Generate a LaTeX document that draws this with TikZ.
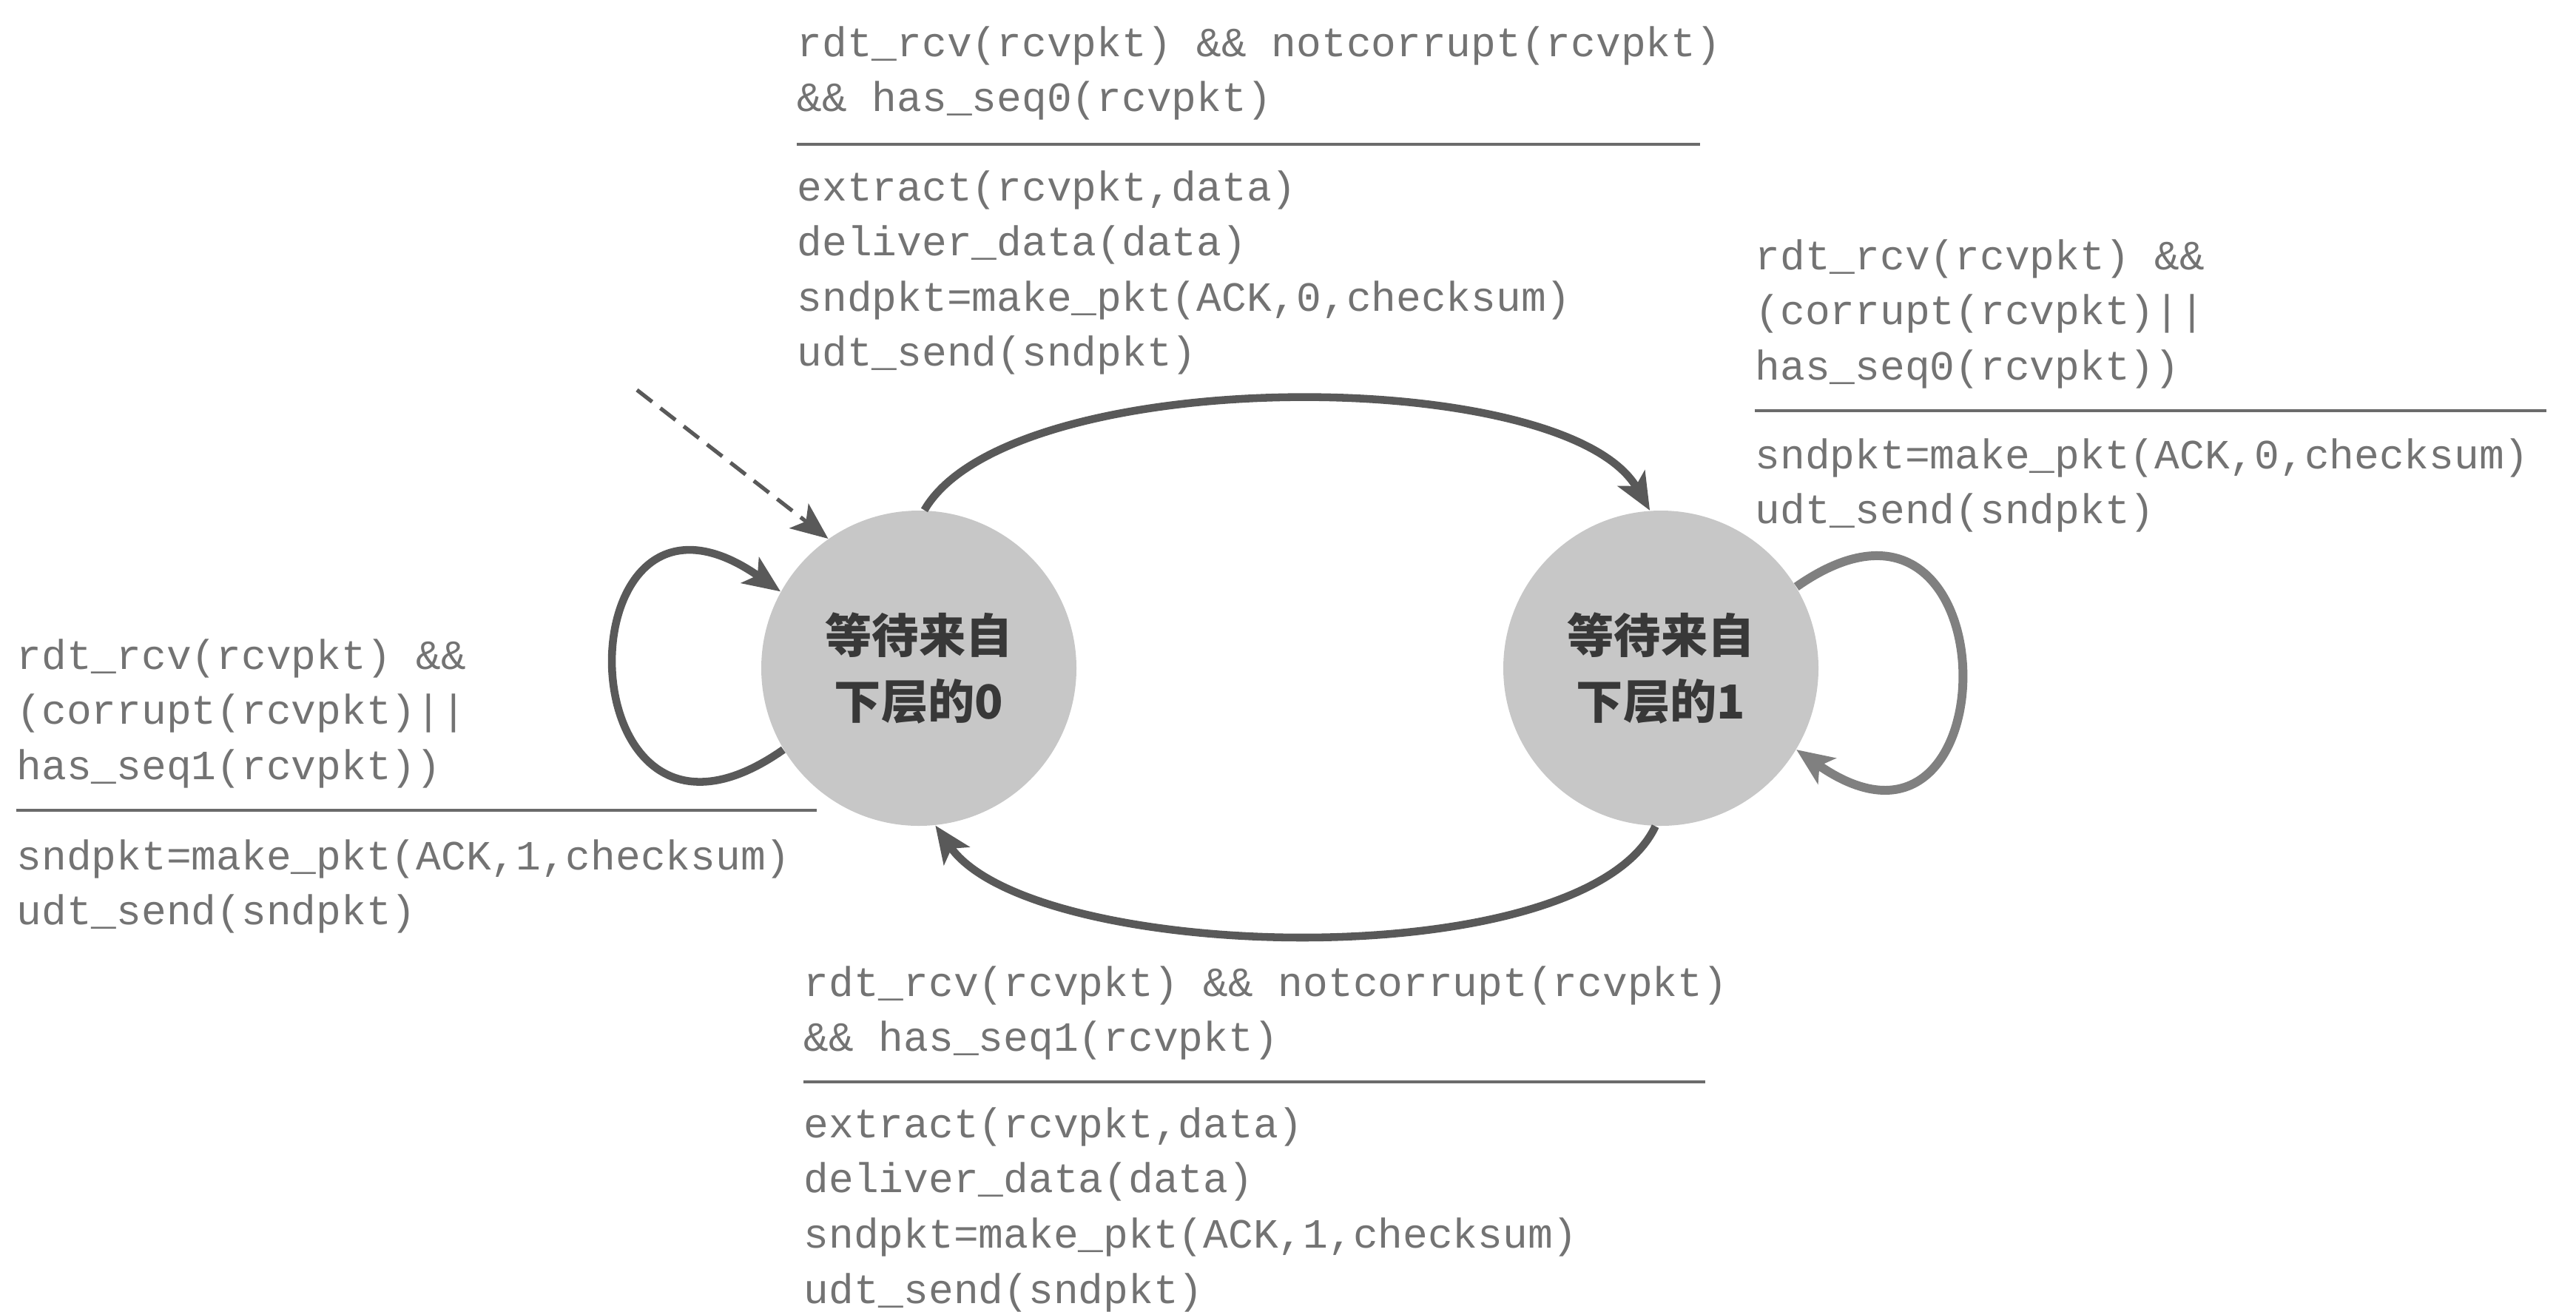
\documentclass[tikz,border=0pt]{standalone}
\usepackage{fontspec}
\newfontfamily\codefont{Liberation Mono}
\newfontfamily\cjkfont{Noto Sans CJK SC}
\usetikzlibrary{arrows.meta}

\begin{document}
\begin{tikzpicture}[every node/.style={inner sep=0pt},
	state/.style={circle, fill=black!22, minimum size=4.26cm, align=center, text=black!78, font=\cjkfont\bfseries\fontsize{18}{25.3}\selectfont},
	code/.style={anchor=north west, align=left, text=black!55, font=\codefont\fontsize{16}{21.2}\selectfont},
	sepline/.style={black!58, line width=1.4pt},
	trans/.style={black!65, line width=3pt, -{Stealth[length=5mm, width=4.2mm, inset=1.2mm]}}]
	\useasboundingbox (0,0) rectangle (34.82,-17.72);
	\node[state] (w0) at (12.42,-9.03) {等待来自\\下层的0};
	\node[state] (w1) at (22.45,-9.03) {等待来自\\下层的1};
	\node[code] (topguard) at (10.77,-0.35) {rdt\_rcv(rcvpkt) \&\& notcorrupt(rcvpkt)\\\&\& has\_seq0(rcvpkt)};
	\draw[sepline] (10.77,-1.95) -- (22.98,-1.95);
	\node[code] (topact) at (10.77,-2.30) {extract(rcvpkt,data)\\deliver\_data(data)\\sndpkt=make\_pkt(ACK,0,checksum)\\udt\_send(sndpkt)};
	\node[code] (rguard) at (23.72,-3.23) {rdt\_rcv(rcvpkt) \&\&\\(corrupt(rcvpkt)||\\has\_seq0(rcvpkt))};
	\draw[sepline] (23.72,-5.55) -- (34.42,-5.55);
	\node[code] (ract) at (23.72,-5.92) {sndpkt=make\_pkt(ACK,0,checksum)\\udt\_send(sndpkt)};
	\node[code] (lguard) at (0.22,-8.63) {rdt\_rcv(rcvpkt) \&\&\\(corrupt(rcvpkt)||\\has\_seq1(rcvpkt))};
	\draw[sepline] (0.22,-10.95) -- (11.04,-10.95);
	\node[code] (lact) at (0.22,-11.34) {sndpkt=make\_pkt(ACK,1,checksum)\\udt\_send(sndpkt)};
	\node[code] (botguard) at (10.86,-13.05) {rdt\_rcv(rcvpkt) \&\& notcorrupt(rcvpkt)\\\&\& has\_seq1(rcvpkt)};
	\draw[sepline] (10.86,-14.62) -- (23.05,-14.62);
	\node[code] (botact) at (10.86,-14.96) {extract(rcvpkt,data)\\deliver\_data(data)\\sndpkt=make\_pkt(ACK,1,checksum)\\udt\_send(sndpkt)};
	\draw[trans] (w0.88) to[out=60,in=120,looseness=0.6] (w1.94);
	\draw[trans] (w1.-92) to[out=-115,in=-55,looseness=0.6] (w0.-84);
	\draw[trans] (w0.211) to[out=215,in=145,looseness=4.4] (w0.151);
	\draw[trans, black!50, line width=3.4pt] (w1.31) to[out=35,in=-35,looseness=4.2] (w1.-31);
	\coordinate (init) at (8.61,-5.27);
	\draw[trans, line width=1.5pt, dash pattern=on 2.6mm off 1.4mm] (init) -- (w0.125);
\end{tikzpicture}
\end{document}
